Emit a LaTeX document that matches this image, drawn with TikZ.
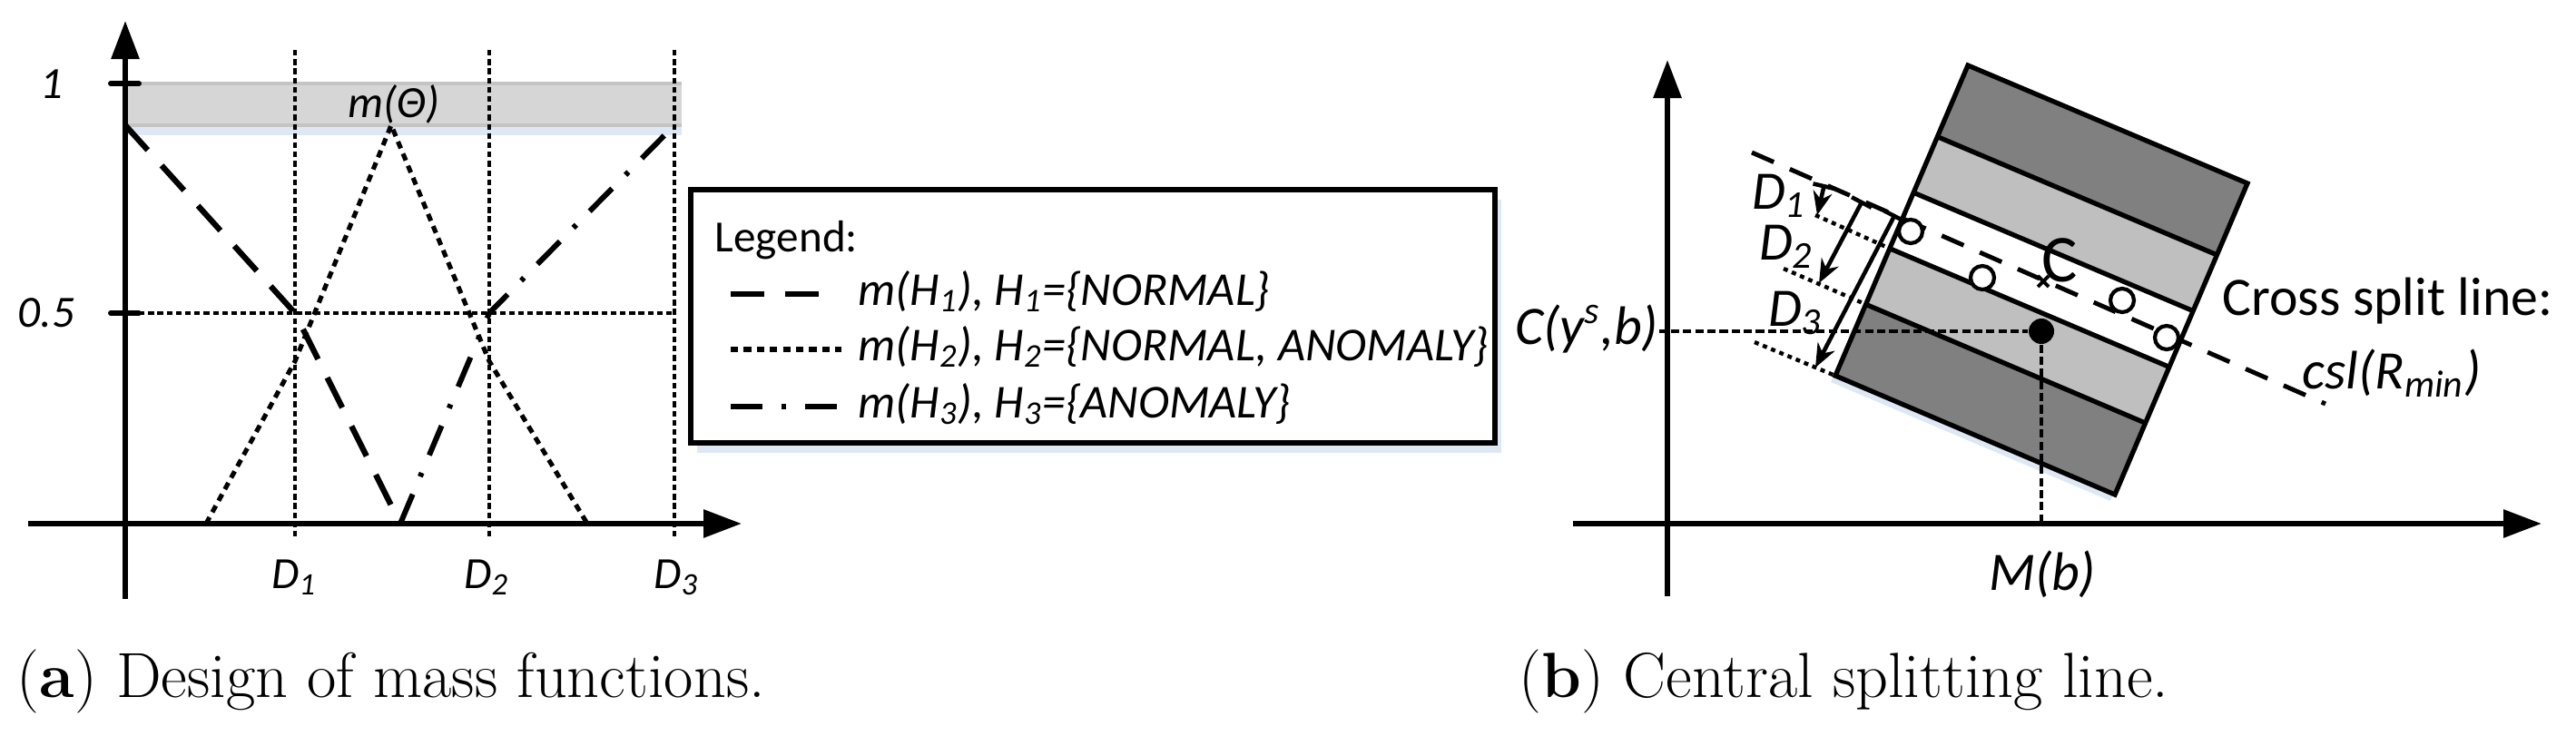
\documentclass[tikz,border=0pt]{standalone}
\usepackage{fontspec}
\usepackage{xcolor}
\usepackage{tikz}
\usetikzlibrary{arrows.meta, calc, shadows}
\newfontfamily\labelfont{Carlito}
\definecolor{darkband}{rgb}{0.50, 0.50, 0.50}
\definecolor{lightband}{rgb}{0.75, 0.75, 0.75}
\definecolor{thetafill}{rgb}{0.84, 0.84, 0.84}
\definecolor{thetaedge}{rgb}{0.77, 0.77, 0.77}
\definecolor{glow}{rgb}{0.87, 0.91, 0.96}
\tikzstyle{axisline} = [line width=1.7pt, -{Triangle[length=4.2mm,width=3mm]}]
\tikzstyle{guide} = [line width=1.05pt, dash pattern=on 1.8pt off 1.1pt]
\tikzstyle{massone} = [line width=1.8pt, dash pattern=on 10.5pt off 6.5pt]
\tikzstyle{masstwo} = [line width=1.45pt, dash pattern=on 2.3pt off 1.8pt]
\tikzstyle{massthree} = [line width=1.7pt, dash pattern=on 10pt off 6pt on 1.3pt off 6pt]
\tikzstyle{lbl} = [font=\labelfont\itshape\fontsize{14}{16}\selectfont, inner sep=0pt]
\tikzstyle{legtext} = [font=\labelfont\itshape\fontsize{14.8}{17}\selectfont, inner sep=0pt, anchor=base west]
\tikzstyle{rlbl} = [font=\labelfont\itshape\fontsize{17}{20}\selectfont, inner sep=0pt]
\tikzstyle{caption} = [font=\fontsize{20}{24}\selectfont, inner sep=0pt, anchor=base west]
\tikzstyle{projline} = [line width=1.25pt, dash pattern=on 2.6pt off 1.2pt]
\tikzstyle{distline} = [line width=1.25pt, dash pattern=on 1.4pt off 1.4pt]
\tikzstyle{dist} = [line width=1.3pt, {Bar[width=7pt]}-{Stealth[length=2.6mm,width=2.1mm]}]
\tikzstyle{splitline} = [line width=1.4pt, dash pattern=on 7.5pt off 5.5pt]
\tikzstyle{sample} = [circle, draw, fill=white, line width=1.2pt, inner sep=0pt, minimum size=0.26cm]

\begin{document}
\begin{tikzpicture}[>=Stealth]
\useasboundingbox (0,0) rectangle (28.38,8.10);

% (a) mass functions
\fill[thetafill, drop shadow={shadow xshift=0pt, shadow yshift=-3pt, fill=glow, opacity=1}]
(1.40,6.72) rectangle (7.51,7.18);
\draw[thetaedge, line width=1.4pt] (1.40,7.18) -- (7.51,7.18) (1.40,6.72) -- (7.51,6.72);
\node[lbl] (theta) at (4.34,6.95) {m(Θ)};

\foreach \x in {3.25,5.39,7.43}
\draw[guide] (\x,7.55) -- (\x,2.19);
\draw[guide] (1.53,4.65) -- (7.43,4.65);

\draw[massone] (1.38,6.72) -- (3.25,4.65) -- (4.41,2.33);
\draw[masstwo] (2.27,2.33) -- (3.25,4.12) -- (4.31,6.72) -- (5.39,4.12) -- (6.47,2.33);
\draw[massthree] (4.41,2.33) -- (5.39,4.65) -- (7.43,6.72);

\draw[axisline] (1.38,1.50) -- (1.38,7.87);
\draw[axisline] (0.31,2.33) -- (8.17,2.33);
\draw[line width=1.7pt, line cap=round] (1.22,7.18) -- (1.53,7.18) (1.22,4.65) -- (1.53,4.65);

\node[lbl] (one) at (0.57,7.17) {1};
\node[lbl] (half) at (0.51,4.65) {0.5};
\node[lbl, anchor=base] (done) at (3.24,1.62) {D\textsubscript{1}};
\node[lbl, anchor=base] (dtwo) at (5.36,1.62) {D\textsubscript{2}};
\node[lbl, anchor=base] (dthree) at (7.45,1.62) {D\textsubscript{3}};

% legend
\node[draw, fill=white, line width=1.5pt, minimum width=8.86cm, minimum height=2.79cm,
drop shadow={shadow xshift=2pt, shadow yshift=-3pt, fill=glow, opacity=1}] (legend) at (12.04,4.615) {};
\node[lbl, font=\labelfont\fontsize{14}{16}\selectfont, anchor=base west] (legtitle) at (7.87,5.33) {Legend:};
\node[legtext] (legone) at (9.45,4.74) {m(H\textsubscript{1}), H\textsubscript{1}=\{NORMAL\}};
\node[legtext] (legtwo) at (9.45,4.13) {m(H\textsubscript{2}), H\textsubscript{2}=\{NORMAL, ANOMALY\}};
\node[legtext] (legthree) at (9.45,3.50) {m(H\textsubscript{3}), H\textsubscript{3}=\{ANOMALY\}};
\draw[massone] (8.05,4.86) -- (9.10,4.86);
\draw[masstwo] (8.05,4.25) -- (9.27,4.25);
\draw[massthree] (8.05,3.62) -- (9.27,3.62);

\node[caption] (capa) at (0.18,0.42) {(\textbf{a}) Design of mass functions.};

% (b) central splitting line
\coordinate (T) at (21.68,7.38);
\coordinate (R) at (24.76,6.08);
\coordinate (B) at (23.30,2.65);
\coordinate (L) at (20.22,3.96);

\draw[dist] (20.10,6.07) -- (20.02,5.73);
\draw[dist] (20.52,5.89) -- (20.04,4.98);
\draw[dist] (20.88,5.74) -- (20.00,4.05);

\fill[glow] ($(T)+(-0.05,-0.07)$) -- ($(R)+(-0.05,-0.07)$) -- ($(B)+(-0.05,-0.07)$) -- ($(L)+(-0.05,-0.07)$) -- cycle;
\foreach \a/\b/\c in {0/0.23/darkband, 0.23/0.41/lightband, 0.41/0.59/white, 0.59/0.77/lightband, 0.77/1/darkband}
\fill[\c] ($(T)!\a!(L)$) -- ($(R)!\a!(B)$) -- ($(R)!\b!(B)$) -- ($(T)!\b!(L)$) -- cycle;
\foreach \f in {0.23,0.41,0.59,0.77}
\draw[line width=1.5pt] ($(T)!\f!(L)$) -- ($(R)!\f!(B)$);
\draw[line width=1.5pt] (T) -- (R) -- (B) -- (L) -- cycle;

\draw[distline] (20.00,5.73) -- ($(T)!0.59!(L)$);
\draw[distline] (19.65,5.14) -- ($(T)!0.77!(L)$);
\draw[distline] (19.33,4.33) -- (L);

\draw[splitline] (19.30,6.42) -- (25.62,3.65);

\node[sample] (pone) at (21.05,5.55) {};
\node[sample] (ptwo) at (21.84,5.04) {};
\node[sample] (pthree) at (23.38,4.79) {};
\node[sample] (pfour) at (23.87,4.38) {};
\coordinate (centre) at (22.51,5.00);
\draw[line width=1.1pt] ($(centre)+(-0.06,-0.06)$) -- ($(centre)+(0.06,0.06)$)
($(centre)+(-0.06,0.06)$) -- ($(centre)+(0.06,-0.06)$);
\node[rlbl, font=\labelfont\fontsize{21}{24}\selectfont] (clbl) at (22.69,5.23) {C};

\draw[axisline] (18.37,1.53) -- (18.37,7.44);
\draw[axisline] (17.33,2.33) -- (28.00,2.33);

\node[rlbl] (cys) at (17.48,4.48) {C(y\textsuperscript{s},b)};
\node[circle, fill, inner sep=0pt, minimum size=0.28cm] (mb) at (22.49,4.45) {};
\coordinate (mbfoot) at (22.49,2.33);
\draw[projline] (cys.east |- mb) -- (mb);
\draw[projline] (mb) -- (mbfoot);
\node[rlbl] (mlbl) at (22.50,1.77) {M(b)};

\node[rlbl] (done) at (19.60,5.94) {D\textsubscript{1}};
\node[rlbl] (dtwo) at (19.68,5.38) {D\textsubscript{2}};
\node[rlbl] (dthree) at (19.78,4.65) {D\textsubscript{3}};

\node[rlbl, font=\labelfont\fontsize{17}{20}\selectfont, anchor=west] (csltext) at (24.48,4.78) {Cross split line:};
\node[rlbl, anchor=west] (csl) at (25.36,3.99) {csl(R\textsubscript{min})};

\node[caption] (capb) at (16.73,0.42) {(\textbf{b}) Central splitting line.};
\end{tikzpicture}
\end{document}
